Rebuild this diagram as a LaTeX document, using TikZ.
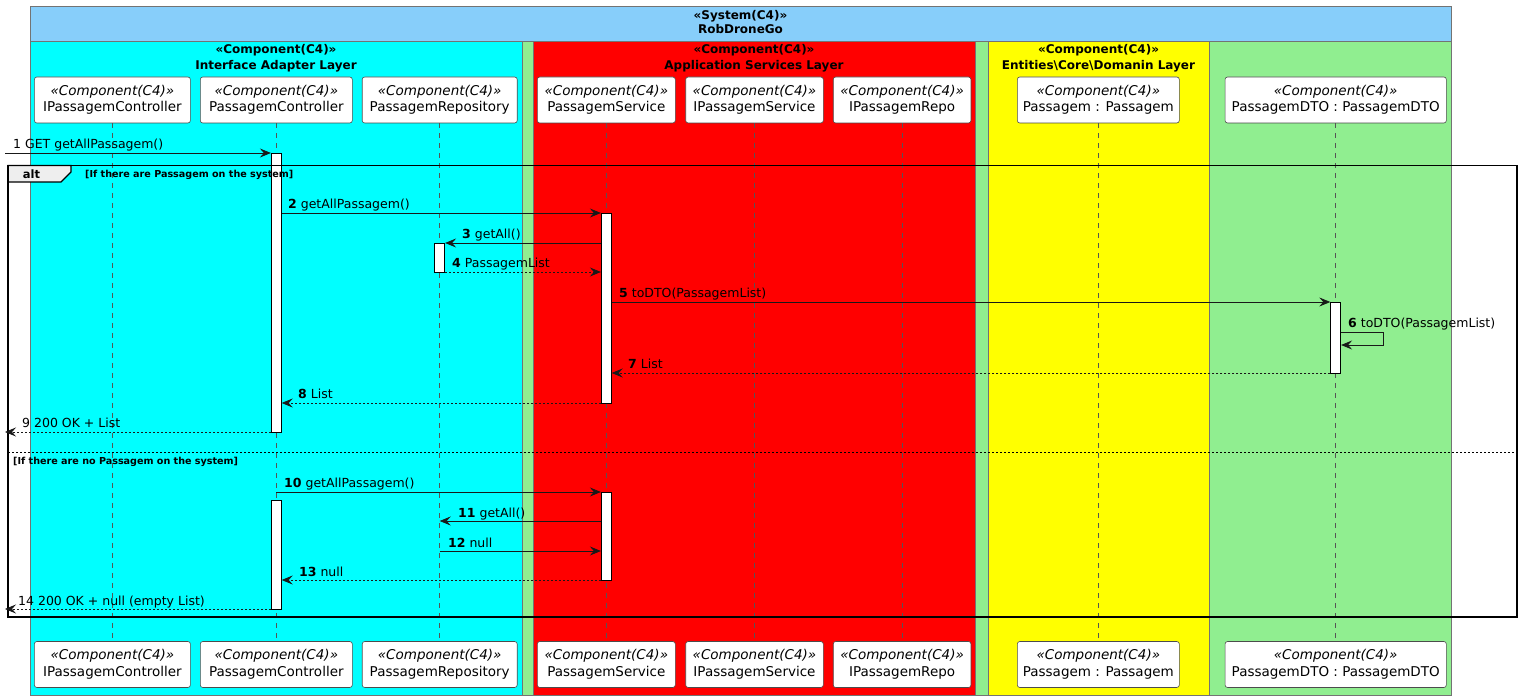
\documentclass[tikz,border=0pt]{standalone}
\usepackage{fontspec}
\setmainfont{DejaVu Sans}
\usetikzlibrary{arrows.meta,calc}
\definecolor{skyb}{HTML}{87CEFA}
\definecolor{lgreen}{HTML}{90EE90}
\definecolor{cyanc}{HTML}{00FFFF}
\definecolor{redc}{HTML}{FF0000}
\definecolor{yelc}{HTML}{FFFF00}
\definecolor{lifegray}{HTML}{555555}
\definecolor{tabgray}{HTML}{EEEEEE}
\begin{document}
\begin{tikzpicture}[x=1pt,y=-1pt,
  part/.style={draw=black!70, fill=white, rounded corners=2.5pt, minimum height=46pt, inner sep=0pt, align=center, font=\fontsize{13.5}{16.5}\selectfont, line width=0.6pt},
  area/.style={draw=black!55, line width=0.6pt},
  ttl/.style={align=center, font=\fontsize{12}{15.5}\selectfont\bfseries, inner sep=0pt},
  life/.style={draw=lifegray, line width=0.7pt, dash pattern=on 5pt off 5pt},
  act/.style={draw=black, fill=white, line width=0.8pt, minimum width=10pt, inner sep=0pt},
  msg/.style={draw=black!90, line width=0.8pt, -{Stealth[length=11pt,width=9pt,inset=4pt]}},
  ret/.style={msg, dash pattern=on 2pt off 2pt},
  lbl/.style={anchor=base west, inner sep=0pt, font=\fontsize{12.5}{15}\selectfont},
  cond/.style={anchor=base west, inner sep=0pt, font=\fontsize{9.6}{11}\selectfont\bfseries},
]
\useasboundingbox (0,0) rectangle (1524,700);
\fill[white] (0,0) rectangle (1524,700);
% system container
\fill[lgreen] (30,6) rectangle (1451,695);
\fill[skyb] (30,6) rectangle (1451,41);
\draw[area] (30,6) rectangle (1451,695);
\draw[area] (30,41) -- (1451,41);
\node[ttl, font=\fontsize{12}{14.7}\selectfont\bfseries] (tsys) at (740.5,22) {«System(C4)»\\RobDroneGo};
% component containers
\draw[area, fill=cyanc] (30,41) rectangle (522,695);
\draw[area, fill=redc] (533,41) rectangle (975,695);
\draw[area, fill=yelc] (988,41) rectangle (1209,695);
\node[ttl] (tia) at (276,58) {«Component(C4)»\\Interface Adapter Layer};
\node[ttl] (tas) at (754,58) {«Component(C4)»\\Application Services Layer};
\node[ttl] (tec) at (1098.5,58) {«Component(C4)»\\Entities\textbackslash Core\textbackslash Domanin Layer};
% participants top
\node[part, minimum width=156pt] (ipcT) at (112.4,100) {\textit{«Component(C4)»}\\IPassagemController};
\node[part, minimum width=152pt] (pcT) at (276.3,100) {\textit{«Component(C4)»}\\PassagemController};
\node[part, minimum width=155pt] (prT) at (439.7,100) {\textit{«Component(C4)»}\\PassagemRepository};
\node[part, minimum width=138pt] (psT) at (606.3,100) {\textit{«Component(C4)»}\\PassagemService};
\node[part, minimum width=137.6pt] (ipsT) at (754.5,100) {\textit{«Component(C4)»}\\IPassagemService};
\node[part, minimum width=137.7pt] (iprT) at (902.1,100) {\textit{«Component(C4)»}\\IPassagemRepo};
\node[part, minimum width=162pt] (pT) at (1098.3,100) {\textit{«Component(C4)»}\\Passagem : Passagem};
\node[part, minimum width=221.3pt] (dtoT) at (1335.7,100) {\textit{«Component(C4)»}\\PassagemDTO : PassagemDTO};
% participants bottom
\node[part, minimum width=156pt] (ipcB) at (112.4,664.5) {\textit{«Component(C4)»}\\IPassagemController};
\node[part, minimum width=152pt] (pcB) at (276.3,664.5) {\textit{«Component(C4)»}\\PassagemController};
\node[part, minimum width=155pt] (prB) at (439.7,664.5) {\textit{«Component(C4)»}\\PassagemRepository};
\node[part, minimum width=138pt] (psB) at (606.3,664.5) {\textit{«Component(C4)»}\\PassagemService};
\node[part, minimum width=137.6pt] (ipsB) at (754.5,664.5) {\textit{«Component(C4)»}\\IPassagemService};
\node[part, minimum width=137.7pt] (iprB) at (902.1,664.5) {\textit{«Component(C4)»}\\IPassagemRepo};
\node[part, minimum width=162pt] (pB) at (1098.3,664.5) {\textit{«Component(C4)»}\\Passagem : Passagem};
\node[part, minimum width=221.3pt] (dtoB) at (1335.7,664.5) {\textit{«Component(C4)»}\\PassagemDTO : PassagemDTO};
% lifelines
\foreach \n in {ipc,pc,pr,ps,ips,ipr,p,dto}{
  \draw[life] (\n T.south) -- (\n B.north);
}
% activations
\node[act, minimum height=279pt] (a1) at (pcT |- 0,292.5) {};
\node[act, minimum height=190pt] (a2) at (psT |- 0,308) {};
\node[act, minimum height=29pt] (a3) at (prT |- 0,257.5) {};
\node[act, minimum height=71pt] (a4) at (dtoT |- 0,337.5) {};
\node[act, minimum height=109pt] (a5) at (pcT |- 0,554.5) {};
\node[act, minimum height=88pt] (a6) at (psT |- 0,536) {};
% alt frame
\draw[line width=1.2pt, fill=tabgray] (8,165.5) -- (71,165.5) -- (71,172) -- (61,182) -- (8,182) -- cycle;
\draw[line width=1.5pt] (8,165.5) rectangle (1517,617);
\node[inner sep=0pt, font=\fontsize{11.5}{13}\selectfont\bfseries] (altl) at (31.5,174) {alt};
\node[cond] (c1) at (85,177.5) {[If there are Passagem on the system]};
\draw[line width=0.8pt, dash pattern=on 2pt off 2pt] (8,452) -- (1517,452);
\node[cond] (c2) at (13,464.5) {[If there are no Passagem on the system]};
% external end points
\coordinate (ext1) at (5,153);
\coordinate (ext9) at (5,432);
\coordinate (ext14) at (5,609);
% messages
\draw[msg] (ext1) -- (a1.west |- ext1);
\node[lbl] (l1) at (13,149) {1 GET getAllPassagem()};
\draw[msg] (a1.east |- 0,213) -- (a2.west |- 0,213);
\node[lbl] (l2) at (288,209) {\textbf{2} getAllPassagem()};
\draw[msg] (a2.west |- 0,243) -- (a3.east |- 0,243);
\node[lbl] (l3) at (462,239) {\textbf{3} getAll()};
\draw[ret] (a3.east |- 0,272) -- (a2.west |- 0,272);
\node[lbl] (l4) at (452,268) {\textbf{4} PassagemList};
\draw[msg] (a2.east |- 0,302) -- (a4.west |- 0,302);
\node[lbl] (l5) at (619,298) {\textbf{5} toDTO(PassagemList)};
\draw[msg] (a4.east |- 0,332) -- ++(42,0) -- ++(0,13) -- (a4.east |- 0,345);
\node[lbl] (l6) at (1348,328) {\textbf{6} toDTO(PassagemList)};
\draw[ret] (a4.west |- 0,373) -- (a2.east |- 0,373);
\node[lbl] (l7) at (628,369) {\textbf{7} List};
\draw[ret] (a2.west |- 0,403) -- (a1.east |- 0,403);
\node[lbl] (l8) at (298,399) {\textbf{8} List};
\draw[ret] (a1.west |- ext9) -- (ext9);
\node[lbl] (l9) at (22,428) {9 200 OK + List};
\draw[msg] (pcT |- 0,492) -- (a6.west |- 0,492);
\node[lbl] (l10) at (284,488) {\textbf{10} getAllPassagem()};
\draw[msg] (a6.west |- 0,521) -- (prT |- 0,521);
\node[lbl] (l11) at (458,517) {\textbf{11} getAll()};
\draw[msg] (prT |- 0,551) -- (a6.west |- 0,551);
\node[lbl] (l12) at (448,547) {\textbf{12} null};
\draw[ret] (a6.west |- 0,580) -- (a5.east |- 0,580);
\node[lbl] (l13) at (299,576) {\textbf{13} null};
\draw[ret] (a5.west |- ext14) -- (ext14);
\node[lbl] (l14) at (18,605) {14 200 OK + null (empty List)};
\end{tikzpicture}
\end{document}
